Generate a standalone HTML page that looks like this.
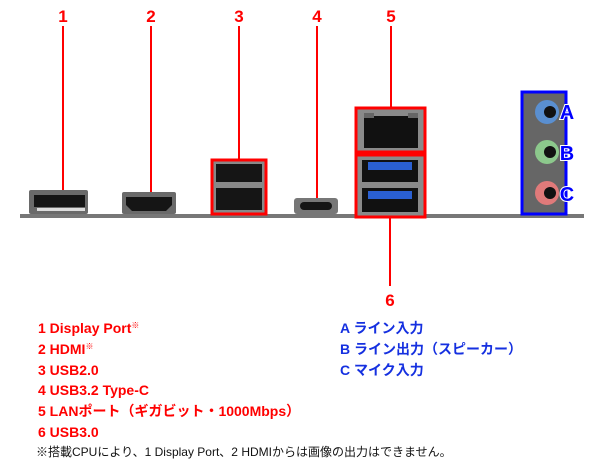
<!DOCTYPE html>
<html><head><meta charset="utf-8">
<style>
html,body{margin:0;padding:0;background:#fff;}
svg{display:block;}
text{font-family:"Liberation Sans","Noto Sans CJK JP",sans-serif;}
</style></head>
<body>
<svg width="600" height="464" viewBox="0 0 600 464" xmlns="http://www.w3.org/2000/svg">
<g fill="#f00" font-size="17" font-weight="bold" text-anchor="middle">
<text x="63" y="22">1</text>
<text x="151" y="22">2</text>
<text x="239" y="22">3</text>
<text x="317" y="22">4</text>
<text x="391" y="22">5</text>
<text x="390" y="306">6</text>
</g>
<g stroke="#f00" stroke-width="2">
<line x1="63" y1="26" x2="63" y2="200"/>
<line x1="151" y1="26" x2="151" y2="202"/>
<line x1="239" y1="26" x2="239" y2="160"/>
<line x1="317" y1="26" x2="317" y2="206"/>
<line x1="391" y1="26" x2="391" y2="108"/>
<line x1="390" y1="217" x2="390" y2="286"/>
</g>
<rect x="20" y="214" width="564" height="4" fill="#777"/>
<!-- DP -->
<rect x="29" y="190" width="59" height="24" rx="2" fill="#6a6a6a"/>
<rect x="34" y="195" width="51" height="12" fill="#151515"/>
<rect x="37" y="208" width="48" height="3" fill="#ddd"/>
<!-- HDMI -->
<rect x="122" y="192" width="54" height="22" rx="2" fill="#6a6a6a"/>
<polygon points="126,197 172,197 172,205 166,211 132,211 126,205" fill="#151515"/>
<!-- USB2 -->
<rect x="213" y="161" width="52" height="52" fill="#888"/>
<rect x="216" y="164" width="46" height="18" fill="#151515"/>
<rect x="216" y="188" width="46" height="22" fill="#151515"/>
<rect x="212" y="160" width="54" height="54" fill="none" stroke="#f00" stroke-width="3"/>
<!-- Type-C -->
<rect x="294" y="198" width="44" height="16" rx="3" fill="#777"/>
<rect x="300" y="202" width="32" height="8" rx="4" fill="#151515"/>
<!-- LAN -->
<rect x="357" y="109" width="67" height="42" fill="#8a8a8a"/>
<rect x="364" y="116" width="54" height="32" fill="#111"/>
<rect x="364" y="113" width="10" height="5" fill="#666"/>
<rect x="408" y="113" width="10" height="5" fill="#666"/>
<rect x="356" y="108" width="69" height="44" fill="none" stroke="#f00" stroke-width="3"/>
<!-- USB3 -->
<rect x="357" y="156" width="67" height="60" fill="#8a8a8a"/>
<rect x="362" y="160" width="56" height="22" fill="#111"/>
<rect x="368" y="162" width="44" height="8" fill="#2a5fd0"/>
<rect x="362" y="188" width="56" height="24" fill="#111"/>
<rect x="368" y="191" width="44" height="8" fill="#2a5fd0"/>
<rect x="356" y="155" width="69" height="62" fill="none" stroke="#f00" stroke-width="3"/>
<!-- audio -->
<rect x="522" y="92" width="44" height="122" fill="#666"/>
<circle cx="547" cy="112" r="12" fill="#5a8fd0"/><circle cx="550" cy="112" r="6" fill="#111"/>
<circle cx="547" cy="152" r="12" fill="#8cc88c"/><circle cx="550" cy="152" r="6" fill="#111"/>
<circle cx="547" cy="193" r="12" fill="#e07a7a"/><circle cx="550" cy="193" r="6" fill="#111"/>
<rect x="522" y="92" width="44" height="122" fill="none" stroke="#00f" stroke-width="3"/>
<g fill="#00f" stroke="#fff" stroke-width="2" paint-order="stroke" font-size="20" font-weight="bold" text-anchor="middle">
<text x="567" y="119">A</text>
<text x="567" y="160">B</text>
<text x="567" y="201">C</text>
</g>
<g fill="#f00" font-size="14" font-weight="bold">
<text x="38" y="333">1 Display Port<tspan font-size="8" dy="-5">※</tspan></text>
<text x="38" y="354">2 HDMI<tspan font-size="8" dy="-5">※</tspan></text>
<text x="38" y="375">3 USB2.0</text>
<text x="38" y="395">4 USB3.2 Type-C</text>
<text x="38" y="416">5 LANポート（ギガビット・1000Mbps）</text>
<text x="38" y="437">6 USB3.0</text>
</g>
<g fill="#1530e0" font-size="14" font-weight="bold">
<text x="340" y="333">A ライン入力</text>
<text x="340" y="354">B ライン出力（スピーカー）</text>
<text x="340" y="375">C マイク入力</text>
</g>
<text x="36" y="456" font-size="12" fill="#111">※搭載CPUにより、1 Display Port、2 HDMIからは画像の出力はできません。</text>
</svg>
</body></html>
